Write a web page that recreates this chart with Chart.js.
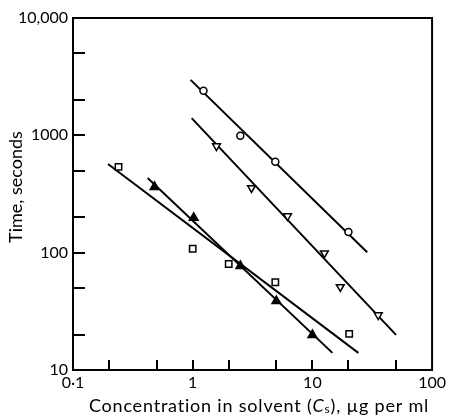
<!DOCTYPE html>
<html>
<head>
<meta charset="utf-8">
<script src="https://cdn.jsdelivr.net/npm/chart.js@4"></script>
<style>
  html, body { margin: 0; padding: 0; background: #fff; }
  canvas { display: block; }
</style>
</head>
<body>
<canvas id="chart" width="449" height="416"></canvas>
<script>
// tick values and labels
const xTicks = [0.1, 0.2, 0.5, 1, 2, 5, 10, 20, 50, 100];
const xTickLabels = ['0·1', '', '', '1', '', '', '10', '', '', '100'];
const yTicks = [10, 20, 50, 100, 200, 500, 1000, 2000, 5000, 10000];
const yTickLabels = ['10', '', '', '100', '', '', '1000', '', '', '10,000'];

// open circles
const circleX = [1.23, 2.5, 4.9, 20];
const circleY = [2400, 990, 595, 150];
const circleFitX = [0.96, 28.7];
const circleFitY = [2970, 101];

// open inverted triangles
const invTriX = [1.58, 3.1, 6.2, 12.6, 17.1, 35.5];
const invTriY = [810, 356, 205, 99, 51, 29.4];
const invTriFitX = [0.98, 50];
const invTriFitY = [1400, 19.9];

// open squares
const squareX = [0.24, 1.0, 2.0, 4.9, 20.3];
const squareY = [538, 108, 80, 56, 20.3];
const squareFitX = [0.196, 24.2];
const squareFitY = [570, 14.0];

// filled triangles
const triX = [0.48, 1.02, 2.5, 5.0, 10];
const triY = [363, 198, 77, 38.7, 19.9];
const triFitX = [0.42, 14.7];
const triFitY = [433, 14.0];

const FONT = 'Lato, "Open Sans", sans-serif';

const pts = (xs, ys) => xs.map((x, i) => ({ x: x, y: ys[i] }));

const fitLine = (xs, ys) => ({
    data: pts(xs, ys),
    showLine: true,
    borderColor: '#000',
    borderWidth: 2,
    pointRadius: 0,
    order: 2,
});

const markers = (xs, ys, style, extra) => Object.assign({
    data: pts(xs, ys),
    showLine: false,
    pointStyle: style,
    pointBorderColor: '#000',
    pointBackgroundColor: '#fff',
    pointBorderWidth: 1.5,
    order: 1,
}, extra);

// frame box, inward ticks and the axis titles
const framePlugin = {
    id: 'frame',
    afterDraw(chart) {
        const { ctx, chartArea, scales } = chart;
        const { left, right, top, bottom } = chartArea;
        ctx.save();
        ctx.strokeStyle = '#000';
        ctx.lineWidth = 2;
        ctx.strokeRect(left, top, right - left, bottom - top);
        ctx.beginPath();
        xTicks.slice(1, -1).forEach(v => {
            const px = Math.round(scales.x.getPixelForValue(v));
            ctx.moveTo(px, bottom);
            ctx.lineTo(px, bottom - 10);
        });
        yTicks.slice(1, -1).forEach(v => {
            const py = Math.round(scales.y.getPixelForValue(v));
            ctx.moveTo(left, py);
            ctx.lineTo(left + 12, py);
        });
        ctx.stroke();

        ctx.fillStyle = '#000';
        ctx.textBaseline = 'middle';

        // y axis title
        ctx.save();
        ctx.translate(16, 187);
        ctx.rotate(-Math.PI / 2);
        ctx.textAlign = 'center';
        ctx.font = `18px ${FONT}`;
        ctx.fillText('Time, seconds', 0, 0);
        ctx.restore();

        // x axis title, with italic C and subscript s
        const size = 18;
        ctx.letterSpacing = '0.8px';
        const parts = [
            { t: 'Concentration in solvent (', f: `${size}px ${FONT}`, dy: 0 },
            { t: 'C', f: `italic ${size}px ${FONT}`, dy: 0 },
            { t: 's', f: `${size - 6}px ${FONT}`, dy: 3 },
            { t: '), µg per ml', f: `${size}px ${FONT}`, dy: 0 },
        ];
        let total = 0;
        parts.forEach(p => { ctx.font = p.f; p.w = ctx.measureText(p.t).width; total += p.w; });
        let cx = 259 - total / 2;
        const cy = 406;
        ctx.textAlign = 'left';
        parts.forEach(p => {
            ctx.font = p.f;
            ctx.fillText(p.t, cx, cy + p.dy);
            cx += p.w;
        });
        ctx.restore();
    }
};

new Chart(document.getElementById('chart'), {
    type: 'scatter',
    data: {
        datasets: [
            fitLine(circleFitX, circleFitY),
            fitLine(invTriFitX, invTriFitY),
            fitLine(squareFitX, squareFitY),
            fitLine(triFitX, triFitY),
            markers(circleX, circleY, 'circle', { pointRadius: 3.5 }),
            markers(invTriX, invTriY, 'triangle', { pointRadius: 4.5, pointRotation: 180 }),
            markers(squareX, squareY, 'rect', { pointRadius: 4.5 }),
            markers(triX, triY, 'triangle', { pointRadius: 5, pointBackgroundColor: '#000' }),
        ]
    },
    options: {
        responsive: false,
        animation: false,
        devicePixelRatio: 1,
        layout: { padding: { top: 18, right: 16, left: 0, bottom: 0 } },
        plugins: { legend: { display: false }, tooltip: { enabled: false } },
        scales: {
            x: {
                type: 'logarithmic',
                min: 0.1,
                max: 100,
                afterBuildTicks: s => { s.ticks = xTicks.map(v => ({ value: v })); },
                afterFit: s => { s.height = 46; },
                grid: { display: false, drawTicks: false },
                border: { display: false },
                ticks: {
                    autoSkip: false,
                    maxRotation: 0,
                    padding: 3,
                    color: '#000',
                    font: { family: FONT, size: 16 },
                    callback: (v, i) => xTickLabels[i],
                },
            },
            y: {
                type: 'logarithmic',
                min: 10,
                max: 10000,
                afterBuildTicks: s => { s.ticks = yTicks.map(v => ({ value: v })); },
                afterFit: s => { s.width = 73; },
                grid: { display: false, drawTicks: false },
                border: { display: false },
                ticks: {
                    autoSkip: false,
                    padding: 5,
                    color: '#000',
                    font: { family: FONT, size: 16 },
                    callback: (v, i) => yTickLabels[i],
                },
            },
        },
    },
    plugins: [framePlugin],
});
</script>
</body>
</html>
